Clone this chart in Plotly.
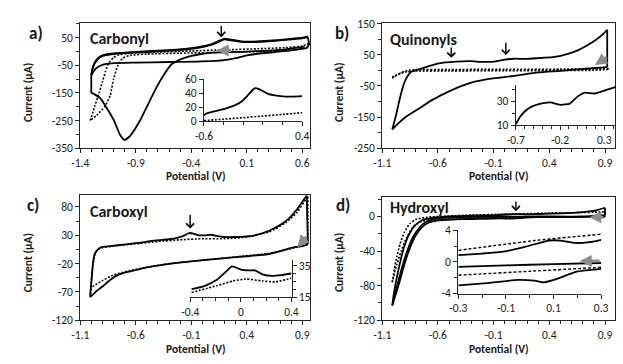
import plotly.graph_objects as go

# ---------------- data ----------------
# Panel a) Carbonyl - main CV
a_solid_x = [0.62, 0.4, 0.1, -0.2, -0.31, -0.4, -0.46, -0.52, -0.58, -0.66, -0.72, -0.77, -0.87, -0.95, -1.0, -1.04,
             -1.1, -1.16, -1.22, -1.27, -1.3, -1.3, -1.29, -1.27, -1.24, -1.2, -1.1, -0.9, -0.6, -0.4, -0.28, -0.2,
             -0.14, -0.1, -0.04, 0.05, 0.15, 0.3, 0.45, 0.6, 0.65, 0.66, 0.64, 0.5, 0.35, 0.2, 0.1, 0.0, -0.1,
             -0.3, -0.6, -0.9, -1.1, -1.2, -1.26, -1.3, -1.29, -1.27, -1.24, -1.2, -1.1, -0.9, -0.6, -0.4, -0.28,
             -0.2, -0.14, -0.1, -0.04, 0.05, 0.15, 0.3, 0.45, 0.6, 0.65]
a_solid_y = [18, 6, 0, -4, -9, -16, -23, -33, -47, -93, -135, -176, -256, -305, -320, -302,
             -246, -205, -169, -155, -150, -88, -62, -40, -24, -14, -7, -1, 5, 12, 20, 30,
             40, 44, 40, 35, 34, 37, 42, 48, 52, 25, 12, 4, -2, -8, -14, -24, -31,
             -36, -38, -40, -42, -48, -62, -85, -66, -44, -27, -16, -9, -3, 3, 10, 18,
             27, 37, 47, 43, 37, 36, 39, 44, 50, 55]
a_solid_breaks = [20, 21, 40, 42, 55]
a_dot_x = [-1.31, -1.27, -1.23, -1.2, -1.17, -1.14, -1.1, -1.05, -0.95, -0.7, -0.4, -0.1, 0.2, 0.45, 0.6, 0.66,
           0.64, 0.5, 0.2, -0.1, -0.5, -0.8, -0.95, -1.02, -1.06, -1.1, -1.13, -1.18, -1.25, -1.31]
a_dot_y = [-250, -200, -150, -110, -70, -40, -22, -12, -6, -2, 2, 6, 10, 14, 20, 30,
           14, 5, 0, -3, -6, -9, -14, -25, -50, -100, -160, -200, -230, -250]
a_dot_breaks = [15]
# Panel a) inset
a_in_solid_x = [-0.6, -0.57, -0.5, -0.4, -0.3, -0.22, -0.16, -0.11, -0.08, -0.04, 0.04, 0.12, 0.2, 0.3, 0.4]
a_in_solid_y = [8.6, 11.5, 14, 17.5, 22, 28, 36, 44, 47.5, 46, 40, 37, 35.7, 35.4, 35.9]
a_in_dot_x = [-0.6, -0.4, -0.2, 0.0, 0.2, 0.4]
a_in_dot_y = [1.0, 3.0, 5.2, 7.5, 9.8, 12.3]

# Panel b) Quinonyls
b_solid_x = [-1.01, -0.98, -0.95, -0.92, -0.89, -0.84, -0.77, -0.7, -0.59, -0.44, -0.31, -0.2, -0.09, 0.0, 0.08,
             0.19, 0.3, 0.43, 0.56, 0.65, 0.73, 0.82, 0.88, 0.92, 0.92, 0.88, 0.7, 0.5, 0.3, 0.1, -0.14, -0.3,
             -0.49, -0.65, -0.78, -0.89, -0.96, -1.01]
b_solid_y = [-190, -150, -103, -60, -30, -5, 3, 11, 22, 27.6, 29, 27, 28, 34, 37,
             36.4, 38.8, 42, 52, 63, 78, 98, 115, 130, 11, 9, 4, -2, -7, -17, -28, -40,
             -66, -95, -125, -150, -172, -190]
b_solid_breaks = [23, 24]
b_dot_x = [-1.01, -0.97, -0.92, -0.86, -0.8, -0.5, 0.0, 0.5, 0.8, 0.93, 0.93, 0.8, 0.5, 0.0, -0.5, -0.8, -0.9,
           -0.97, -1.01]
b_dot_y = [-22, -15, -6, 0, 2, 2.5, 3, 3.5, 4, 6, 3, 0, -1, -1.5, -2, -2.5, -6, -16, -25]
b_dot_breaks = [9, 10]
# Panel b) inset
b_in_x = [-0.7, -0.65, -0.59, -0.52, -0.44, -0.31, -0.2, -0.09, 0.0, 0.08, 0.19, 0.3, 0.43]
b_in_y = [10.8, 17, 22, 25.5, 27.6, 29, 27, 28, 34, 37.2, 36.4, 38.8, 42]

# Panel c) Carboxyl
c_solid_x = [-1.01, -0.995, -0.985, -0.97, -0.94, -0.91, -0.78, -0.6, -0.42, -0.3, -0.22, -0.16, -0.12, -0.08,
             -0.03, 0.02, 0.08, 0.13, 0.19, 0.3, 0.45, 0.6, 0.7, 0.78, 0.85, 0.91, 0.94, 0.95, 0.9, 0.83, 0.6,
             0.4, 0.16, -0.1, -0.28, -0.45, -0.57, -0.7, -0.78, -0.85, -0.89, -0.95, -1.01]
c_solid_y = [-79, -42, -20, -3, 5, 9, 12, 16, 21, 23, 26, 30, 34, 33,
             30, 30, 31, 29, 27, 27, 29, 38, 48, 60, 75, 92, 100, 14, 11, 9, -3,
             -7, -11, -16, -20, -25, -30, -36, -42, -52, -59, -68, -79]
c_solid_breaks = [26, 27]
c_dot_x = [-1.01, -0.995, -0.98, -0.96, -0.92, -0.8, -0.6, -0.4, -0.2, 0.0, 0.2, 0.4, 0.6, 0.75, 0.85, 0.92, 0.95,
           0.95, 0.85, 0.6, 0.3, 0.0, -0.3, -0.6, -0.8, -0.9, -1.01]
c_dot_y = [-75, -40, -15, 0, 7, 11, 15, 19, 22, 24, 24, 27, 36, 52, 70, 90, 98,
           16, 9, -2, -8, -14, -20, -30, -40, -50, -63]
c_dot_breaks = [16, 17]
# Panel c) inset
c_in_solid_x = [-0.39, -0.29, -0.19, -0.12, -0.07, 0.0, 0.07, 0.11, 0.17, 0.25, 0.32, 0.4]
c_in_solid_y = [20.1, 22, 26, 31, 34.5, 32.5, 32, 32, 29.5, 28.5, 29, 30]
c_in_dot_x = [-0.39, -0.19, -0.06, 0.04, 0.17, 0.27, 0.4]
c_in_dot_y = [18, 22.3, 25.3, 26.5, 25.3, 24.7, 27]

# Panel d) Hydroxyl
d_solid_x = [0.9, 0.7, 0.5, 0.3, 0.19, 0.12, 0.06, 0.02, -0.05, -0.18, -0.3, -0.45, -0.6, -0.68, -0.74, -0.8,
             -0.85, -0.9, -0.95, -1.01, -0.99, -0.96, -0.93, -0.9, -0.86, -0.81, -0.75, -0.65, -0.45, -0.3,
             -0.11, -0.02, 0.08, 0.13, 0.19, 0.3, 0.5, 0.7, 0.82, 0.9, 0.9, 0.7, 0.3, 0.0, -0.3, -0.5, -0.62,
             -0.7, -0.76, -0.82, -0.87, -0.92, -0.97, -1.0]
d_solid_y = [0, -0.6, -0.8, -0.9, -1.3, -2.1, -2.6, -2.4, -2.3, -2.7, -3.0, -3.5, -4.5, -7, -12, -22,
             -36, -55, -78, -103, -85, -65, -48, -34, -21, -11, -5, -1.8, 0.2, 0.85,
             1.3, 1.9, 2.7, 2.7, 2.4, 2.8, 3.5, 5, 7, 10, 1.5, -0.1, -0.1, -0.4, -0.65, -1.2, -2.8,
             -6, -12, -23, -38, -58, -82, -96]
d_solid_breaks = [19, 39, 40]
d_dot_x = [-1.01, -0.99, -0.97, -0.94, -0.9, -0.85, -0.8, -0.7, -0.5, -0.3, 0.0, 0.3, 0.6, 0.85, 0.9,
           0.9, 0.6, 0.3, 0.0, -0.3, -0.5, -0.65, -0.75, -0.82, -0.88, -0.93, -0.97, -1.01]
d_dot_y = [-76, -60, -47, -32, -18, -8, -3.5, -1, 0.5, 1.45, 2.6, 3.5, 4.2, 5, 5.5,
           -0.5, -0.6, -0.7, -1.2, -1.7, -2.2, -3.5, -6, -12, -24, -40, -56, -76]
d_dot_breaks = [14, 15]
# Panel d) inset
d_in_up_solid_x = [-0.3, -0.2, -0.11, -0.02, 0.08, 0.13, 0.19, 0.25, 0.3]
d_in_up_solid_y = [0.85, 1.05, 1.3, 1.9, 2.7, 2.7, 2.4, 2.5, 2.8]
d_in_up_dot_x = [-0.3, 0.02, 0.3]
d_in_up_dot_y = [1.45, 2.7, 3.5]
d_in_mid_x = [-0.3, -0.1, 0.1, 0.3]
d_in_mid_y = [-0.65, -0.45, -0.3, -0.15]
d_in_lo_dot_x = [-0.3, 0.0, 0.3]
d_in_lo_dot_y = [-1.7, -1.2, -0.7]
d_in_lo_solid_x = [-0.3, -0.18, -0.05, 0.02, 0.06, 0.12, 0.19, 0.25, 0.3]
d_in_lo_solid_y = [-3.0, -2.7, -2.3, -2.4, -2.6, -2.1, -1.3, -1.05, -0.9]

# tick labels
a_xticks = [-1.4, -0.9, -0.4, 0.1, 0.6]
a_yticks = [-350, -250, -150, -50, 50]
a_in_xticks = [-0.6, 0.4]
a_in_yticks = [0, 20, 40, 60]
b_xticks = [-1.1, -0.6, -0.1, 0.4, 0.9]
b_yticks = [-250, -150, -50, 50, 150]
b_in_xticks = [-0.7, -0.2, 0.3]
b_in_yticks = [10, 30]
c_xticks = [-1.1, -0.6, -0.1, 0.4, 0.9]
c_yticks = [-120, -70, -20, 30, 80]
c_in_xticks = [-0.4, 0, 0.4]
c_in_yticks = [15, 35]
d_xticks = [-1.1, -0.6, -0.1, 0.4, 0.9]
d_yticks = [-120, -80, -40, 0]
d_in_xticks = [-0.3, -0.1, 0.1, 0.3]
d_in_yticks = [-4, 0, 4]

# arrows: (x_head, y_head, x_tail, y_tail)
black_arrows = {"1": [(-0.13, 52, -0.13, 98)],
                "3": [(-0.48, 40, -0.48, 78), (0.01, 49, 0.01, 93)],
                "5": [(-0.11, 42, -0.11, 69)],
                "7": [(0.1, 6, 0.1, 19)]}
gray_arrows = {"1": [(-0.17, 4, -0.03, 4)],
               "3": [(0.81, 17, 0.93, 45)],
               "5": [(0.855, 9, 0.95, 30)],
               "7": [(0.76, -1, 0.9, -1)],
               "8": [(0.21, 0.1, 0.3, 0.1)]}

# ---------------- figure ----------------
W, H = 623, 364
FONT = "Carlito, Lato, 'Open Sans', sans-serif"
AX = "#262626"
TXT = "#1a1a1a"


def fx(px):
    return px / W


def fy(py):
    return 1 - py / H


def lab(vals):
    return [f"{v:g}" for v in vals]


fig = go.Figure()


def add(xs, ys, k, dash=None, width=1.8, color="black", breaks=()):
    idx = [0] + list(breaks) + [len(xs) - 1]
    for i, j in zip(idx[:-1], idx[1:]):
        fig.add_trace(go.Scatter(
            x=xs[i:j + 1], y=ys[i:j + 1], mode="lines",
            line=dict(color=color, width=width, dash=dash, shape="spline", smoothing=0.5),
            xaxis="x" if k == "1" else "x" + k, yaxis="y" if k == "1" else "y" + k,
            hoverinfo="skip", showlegend=False))


DOT = "2px,1.6px"
add(a_dot_x, a_dot_y, "1", dash=DOT, width=1.6, breaks=a_dot_breaks)
add(a_solid_x, a_solid_y, "1", breaks=a_solid_breaks)
add(a_in_dot_x, a_in_dot_y, "2", dash=DOT, width=1.6)
add(a_in_solid_x, a_in_solid_y, "2")
add(b_dot_x, b_dot_y, "3", dash=DOT, width=1.6, breaks=b_dot_breaks)
add(b_solid_x, b_solid_y, "3", breaks=b_solid_breaks)
add(b_in_x, b_in_y, "4")
add(c_dot_x, c_dot_y, "5", dash=DOT, width=1.6, breaks=c_dot_breaks)
add(c_solid_x, c_solid_y, "5", breaks=c_solid_breaks)
add(c_in_dot_x, c_in_dot_y, "6", dash=DOT, width=1.6)
add(c_in_solid_x, c_in_solid_y, "6")
add(d_dot_x, d_dot_y, "7", dash=DOT, width=1.6, breaks=d_dot_breaks)
add(d_solid_x, d_solid_y, "7", breaks=d_solid_breaks)
add(d_in_up_dot_x, d_in_up_dot_y, "8", dash="3px,2px", width=1.4)
add(d_in_up_solid_x, d_in_up_solid_y, "8")
add(d_in_mid_x, d_in_mid_y, "8")
add(d_in_lo_dot_x, d_in_lo_dot_y, "8", dash="3px,2px", width=1.4)
add(d_in_lo_solid_x, d_in_lo_solid_y, "8")


def axis(domain, rng, ticks, t0, minor_dt, anchor, mirror=True, side=None, size=11.5):
    d = dict(domain=domain, range=rng, anchor=anchor, tickmode="array", tickvals=ticks,
             ticktext=lab(ticks), ticks="outside", ticklen=4, tickwidth=1, tickcolor=AX,
             minor=dict(ticks="outside", ticklen=3, tickwidth=1, tickcolor=AX, tick0=t0, dtick=minor_dt),
             showline=True, linecolor=AX, linewidth=1, mirror=mirror, showgrid=False, zeroline=False,
             tickfont=dict(family=FONT, size=size, color=TXT), fixedrange=True)
    if side:
        d["side"] = side
    return d


lay = {}
# a main
lay["xaxis"] = axis([fx(73), fx(309)], [-1.4005, 0.67], a_xticks, -1.4, 0.1, "y")
lay["yaxis"] = axis([fy(147), fy(17)], [-350.5, 102], a_yticks, -350, 50, "x")
# a inset
lay["xaxis2"] = axis([fx(200), fx(301)], [-0.601, 0.401], a_in_xticks, -0.6, 0.2, "y2", mirror=False)
lay["yaxis2"] = axis([fy(119), fy(75)], [-0.2, 60.3], a_in_yticks, 0, 20, "x2", mirror=False)
# b main
lay["xaxis3"] = axis([fx(383), fx(622)], [-1.1005, 0.99], b_xticks, -1.1, 0.1, "y3")
lay["yaxis3"] = axis([fy(147), fy(17)], [-250.5, 150.5], b_yticks, -250, 50, "x3")
# b inset
lay["xaxis4"] = axis([fx(520), 1.0], [-0.701, 0.432], b_in_xticks, -0.7, 0.1, "y4", mirror=False)
lay["yaxis4"] = axis([fy(123), fy(81)], [9.9, 43.6], b_in_yticks, 10, 10, "x4", mirror=False)
# c main
lay["xaxis5"] = axis([fx(73), fx(309)], [-1.1005, 0.97], c_xticks, -1.1, 0.1, "y5")
lay["yaxis5"] = axis([fy(326), fy(195)], [-120.3, 102], c_yticks, -120, 25, "x5")
# c inset
lay["xaxis6"] = axis([fx(186), fx(290)], [-0.401, 0.401], c_in_xticks, -0.4, 0.1, "y6", mirror=False)
lay["yaxis6"] = axis([fy(302), fy(263)], [14.9, 38.6], c_in_yticks, 15, 5, "x6", mirror=False, side="right")
# d main
lay["xaxis7"] = axis([fx(383), fx(622)], [-1.1005, 0.99], d_xticks, -1.1, 0.1, "y7")
lay["yaxis7"] = axis([fy(326), fy(198)], [-120.3, 22], d_yticks, -120, 20, "x7")
# d inset
lay["xaxis8"] = axis([fx(461), fx(608)], [-0.301, 0.301], d_in_xticks, -0.3, 0.1, "y8", mirror=False)
lay["yaxis8"] = axis([fy(298), fy(232)], [-4.03, 4.03], d_in_yticks, -4, 2, "x8", mirror=False)

ann = []


def text(s, px, py, size, bold=True, angle=0, xanchor="center"):
    ann.append(dict(text=f"<b>{s}</b>" if bold else s, x=fx(px), y=fy(py), xref="paper", yref="paper",
                    showarrow=False, textangle=angle, xanchor=xanchor, yanchor="middle",
                    font=dict(family=FONT, size=size, color=TXT)))


# panel letters and titles
text("a)", 28, 28, 17)
text("b)", 342, 28, 17)
text("c)", 25, 206, 17)
text("d)", 343, 206, 17)
text("Carbonyl", 81, 33, 16, xanchor="left")
text("Quinonyls", 389, 34, 16, xanchor="left")
text("Carboxyl", 81, 213, 16, xanchor="left")
text("Hydroxyl", 389, 209, 16, xanchor="left")
# axis titles
for (px, py) in [(19, 89), (338, 89), (19, 266), (338, 266)]:
    text("Current (μA)", px, py, 11.5, angle=-90)
for (px, py) in [(192, 176), (503, 176), (192, 356), (503, 356)]:
    text("Potential (V)", px, py, 11.5)

for k, lst in black_arrows.items():
    xr = "x" if k == "1" else "x" + k
    yr = "y" if k == "1" else "y" + k
    for (xh, yh, xt, yt) in lst:
        ann.append(dict(x=xh, y=yh, ax=xt, ay=yt, xref=xr, yref=yr, axref=xr, ayref=yr, text="",
                        showarrow=True, arrowhead=4, arrowsize=1.1, arrowwidth=1.4, arrowcolor="black",
                        standoff=0, startstandoff=0))
for k, lst in gray_arrows.items():
    xr = "x" if k == "1" else "x" + k
    yr = "y" if k == "1" else "y" + k
    for (xh, yh, xt, yt) in lst:
        ann.append(dict(x=xh, y=yh, ax=xt, ay=yt, xref=xr, yref=yr, axref=xr, ayref=yr, text="",
                        showarrow=True, arrowhead=2, arrowsize=0.8, arrowwidth=3, arrowcolor="#8c8c8c",
                        standoff=0, startstandoff=0))

fig.update_layout(width=W, height=H, autosize=False, margin=dict(l=0, r=0, t=0, b=0),
                  paper_bgcolor="white", plot_bgcolor="rgba(0,0,0,0)", annotations=ann,
                  showlegend=False, font=dict(family=FONT, color=TXT), **lay)

fig.write_html("out.html", config={"displayModeBar": False},
               post_script="document.body.style.margin='0px';document.body.style.padding='0px';")
